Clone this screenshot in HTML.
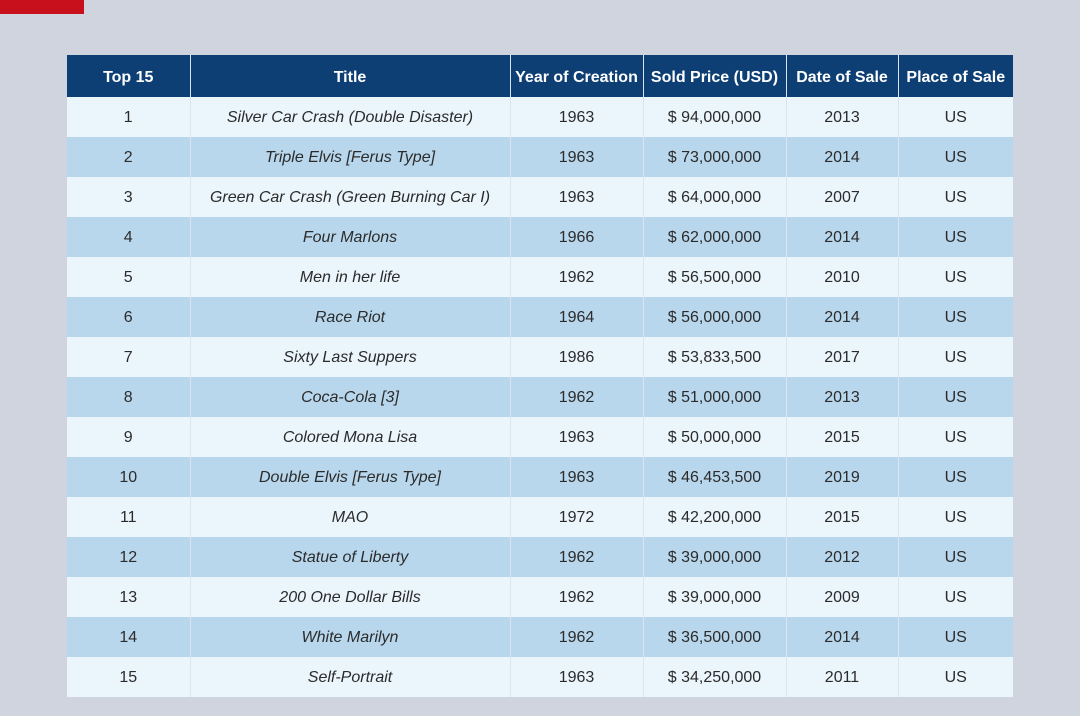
<!DOCTYPE html>
<html><head><meta charset="utf-8"><style>
body{margin:0;width:1080px;height:716px;background:#cfd4de;position:relative;overflow:hidden;font-family:"Liberation Sans",sans-serif}
#red{position:absolute;left:0;top:0;width:84px;height:14px;background:#c8101c}
table{position:absolute;left:67px;top:55px;width:946px;border-collapse:collapse;table-layout:fixed}
th{background:#0e3f74;color:#fff;font-weight:bold;font-size:16px;height:39px;padding:3px 0 0 0;border-right:1px solid #d8e4ef;white-space:nowrap}
td{height:38px;padding:2px 0 0 0;text-align:center;font-size:16px;color:#2b2b2b;border-right:1px solid #d8e6f1}
tr.o td{background:#ebf5fc}
tr.e td{background:#b8d7ec}
td.t{font-style:italic}
th:last-child,td:last-child{border-right:none}
</style></head><body>
<div id="red"></div>
<table>
<colgroup><col style="width:123px"><col style="width:320px"><col style="width:133px"><col style="width:143px"><col style="width:112px"><col style="width:115px"></colgroup>
<thead><tr>
<th>Top 15</th>
<th>Title</th>
<th>Year of Creation</th>
<th>Sold Price (USD)</th>
<th>Date of Sale</th>
<th>Place of Sale</th>
</tr></thead>
<tbody id="tb"></tbody>
</table>
<script>
const titles=["Silver Car Crash (Double Disaster)","Triple Elvis [Ferus Type]","Green Car Crash (Green Burning Car I)","Four Marlons","Men in her life","Race Riot","Sixty Last Suppers","Coca-Cola [3]","Colored Mona Lisa","Double Elvis [Ferus Type]","MAO","Statue of Liberty","200 One Dollar Bills","White Marilyn","Self-Portrait"];
const years=[1963,1963,1963,1966,1962,1964,1986,1962,1963,1963,1972,1962,1962,1962,1963];
const prices=["$ 94,000,000","$ 73,000,000","$ 64,000,000","$ 62,000,000","$ 56,500,000","$ 56,000,000","$ 53,833,500","$ 51,000,000","$ 50,000,000","$ 46,453,500","$ 42,200,000","$ 39,000,000","$ 39,000,000","$ 36,500,000","$ 34,250,000"];
const saleYears=[2013,2014,2007,2014,2010,2014,2017,2013,2015,2019,2015,2012,2009,2014,2011];
const places=["US","US","US","US","US","US","US","US","US","US","US","US","US","US","US"];
const tb=document.getElementById('tb');
titles.forEach((t,i)=>{
 const tr=document.createElement('tr');
 tr.className=i%2?'e':'o';
 
 
 const vals=[i+1,t,years[i],prices[i],saleYears[i],places[i]];
 const names=['rank','title','year','price','sale-date','place'];
 vals.forEach((v,j)=>{
  const td=document.createElement('td');
  td.textContent=v;
  if(j==1)td.className='t';
  
  
  tr.appendChild(td);
 });
 tb.appendChild(tr);
});
</script>
</body></html>
